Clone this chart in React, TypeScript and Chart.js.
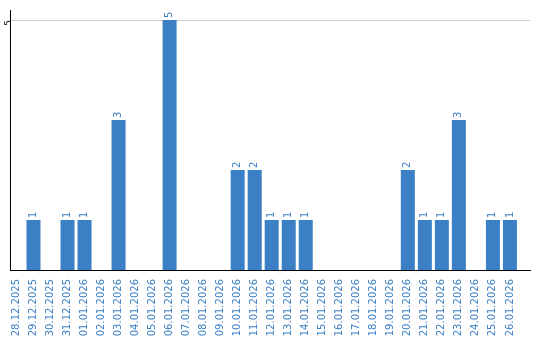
import React, { useEffect, useRef } from "react";
import { Chart, registerables } from "chart.js";

Chart.register(...registerables);

const categories = [
  "28.12.2025", "29.12.2025", "30.12.2025", "31.12.2025", "01.01.2026",
  "02.01.2026", "03.01.2026", "04.01.2026", "05.01.2026", "06.01.2026",
  "07.01.2026", "08.01.2026", "09.01.2026", "10.01.2026", "11.01.2026",
  "12.01.2026", "13.01.2026", "14.01.2026", "15.01.2026", "16.01.2026",
  "17.01.2026", "18.01.2026", "19.01.2026", "20.01.2026", "21.01.2026",
  "22.01.2026", "23.01.2026", "24.01.2026", "25.01.2026", "26.01.2026",
];
const values = [0, 1, 0, 1, 1, 0, 3, 0, 0, 5, 0, 0, 0, 2, 2, 1, 1, 1, 0, 0, 0, 0, 0, 2, 1, 1, 3, 0, 1, 1];
const yTicks = [5];

const BLUE = "#3b7fc4";

const valueLabels = {
  id: "valueLabels",
  afterDatasetsDraw(chart: any) {
    const ctx = chart.ctx;
    const meta = chart.getDatasetMeta(0);
    ctx.save();
    ctx.fillStyle = BLUE;
    ctx.font = "10px 'DejaVu Sans'";
    ctx.textAlign = "left";
    ctx.textBaseline = "middle";
    meta.data.forEach((bar: any, i: number) => {
      const v = values[i];
      if (!v) return;
      ctx.save();
      ctx.translate(bar.x, bar.y - 2);
      ctx.rotate(-Math.PI / 2);
      ctx.fillText(String(v), 0, 0);
      ctx.restore();
    });
    ctx.restore();
  },
};

export default function App() {
  const ref = useRef<HTMLCanvasElement>(null);
  useEffect(() => {
    if (!ref.current) return;
    Chart.defaults.font.family = "'DejaVu Sans'";
    const chart = new Chart(ref.current, {
      type: "bar",
      data: {
        datasets: [
          {
            data: values.map((v, i) => ({ x: i, y: v })),
            backgroundColor: BLUE,
            barPercentage: 0.824,
            categoryPercentage: 1,
          },
        ],
      },
      options: {
        animation: false,
        responsive: false,
        maintainAspectRatio: false,
        layout: { padding: { top: 10, right: 10, left: 0, bottom: 0 } },
        plugins: { legend: { display: false }, tooltip: { enabled: false } },
        scales: {
          x: {
            type: "linear",
            offset: false,
            min: -0.38,
            max: 30.18,
            grid: { display: false, offset: false },
            border: { display: true, color: "#000", width: 1 },
            afterBuildTicks: (scale: any) => {
              scale.ticks = categories.map((_, i) => ({ value: i }));
            },
            afterFit: (scale: any) => {
              scale.height = 70;
              scale.paddingLeft = 0;
              scale.paddingRight = 0;
            },
            ticks: {
              autoSkip: false,
              minRotation: 90,
              maxRotation: 90,
              padding: 1,
              color: BLUE,
              font: { size: 10 },
              callback: (v: any) => categories[Math.round(Number(v))] ?? "",
            },
          },
          y: {
            min: 0,
            max: 5.2,
            border: { display: true, color: "#000", width: 1 },
            grid: { color: "#cccccc", drawTicks: false },
            afterBuildTicks: (scale: any) => {
              scale.ticks = yTicks.map((v) => ({ value: v }));
            },
            afterFit: (scale: any) => {
              scale.width = 10;
              scale.paddingTop = 0;
              scale.paddingBottom = 0;
            },
            ticks: {
              minRotation: 90,
              maxRotation: 90,
              padding: 1,
              color: "#000",
              font: { size: 9 },
            },
          },
        },
      },
      plugins: [valueLabels],
    } as any);
    return () => chart.destroy();
  }, []);
  return (
    <div style={{ position: "absolute", left: 0, top: 0, width: 540, height: 340 }}>
      <canvas ref={ref} width={540} height={340} style={{ width: 540, height: 340 }} />
    </div>
  );
}
